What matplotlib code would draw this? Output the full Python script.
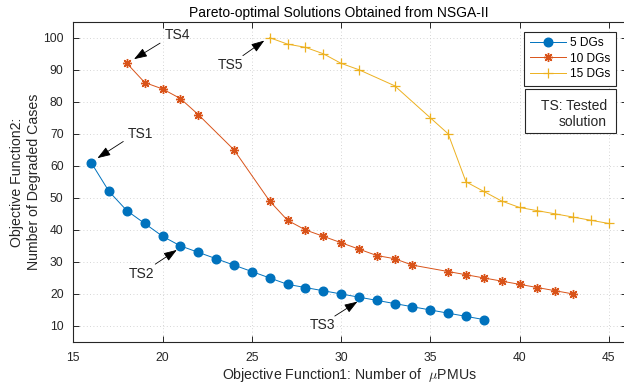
import matplotlib
matplotlib.use('Agg')
import matplotlib.pyplot as plt
from matplotlib.patches import Rectangle

plt.rcParams['font.family'] = ['Liberation Sans', 'DejaVu Sans']
plt.rcParams['mathtext.fontset'] = 'cm'

# ---- data ----
x_5dg = [16, 17, 18, 19, 20, 21, 22, 23, 24, 25, 26, 27, 28, 29, 30, 31, 32, 33, 34, 35, 36, 37, 38]
y_5dg = [61, 52, 46, 42, 38, 35, 33, 31, 29, 27, 25, 23, 22, 21, 20, 19, 18, 17, 16, 15, 14, 13, 12]
x_10dg = [18, 19, 20, 21, 22, 24, 26, 27, 28, 29, 30, 31, 32, 33, 34, 36, 37, 38, 39, 40, 41, 42, 43]
y_10dg = [92, 86, 84, 81, 76, 65, 49, 43, 40, 38, 36, 34, 32, 31, 29, 27, 26, 25, 24, 23, 22, 21, 20]
x_15dg = [26, 27, 28, 29, 30, 31, 33, 35, 36, 37, 38, 39, 40, 41, 42, 43, 44, 45]
y_15dg = [100, 98, 97, 95, 92, 90, 85, 75, 70, 55, 52, 49, 47, 46, 45, 44, 43, 42]
series_labels = ['5 DGs', '10 DGs', '15 DGs']
x_ticks = [15, 20, 25, 30, 35, 40, 45]
y_ticks = [10, 20, 30, 40, 50, 60, 70, 80, 90, 100]
ts_labels = ['TS1', 'TS2', 'TS3', 'TS4', 'TS5']

title = 'Pareto-optimal Solutions Obtained from NSGA-II'
xlabel = 'Objective Function1: Number of  $\\mu$PMUs'
ylabel = 'Objective Function2:\nNumber of Degraded Cases'

# ---- figure ----
fig = plt.figure(figsize=(6.24, 3.9), dpi=100)
ax = fig.add_axes([0.1175, 0.1231, 0.8867, 0.8213])

axc = '#262626'
c_blue, c_red, c_yel = '#0072BD', '#D95319', '#EDB120'

ax.plot(x_5dg, y_5dg, color=c_blue, lw=0.7, marker='o', ms=6.2,
        mfc=c_blue, mec=c_blue, label=series_labels[0], zorder=3)
ax.plot(x_10dg, y_10dg, color=c_red, lw=0.7, marker=(8, 2, 0), ms=6.5,
        mew=1.0, mec=c_red, label=series_labels[1], zorder=3)
ax.plot(x_15dg, y_15dg, color=c_yel, lw=0.7, marker='+', ms=7.5,
        mew=0.9, mec=c_yel, label=series_labels[2], zorder=3)

ax.set_xlim(15, 46)
ax.set_ylim(5, 105)
ax.set_xticks(x_ticks)
ax.set_yticks(y_ticks)
ax.grid(True, linestyle=(0, (1, 3)), color='#c8c8c8', lw=0.6)
ax.set_axisbelow(True)
ax.tick_params(direction='in', top=True, right=True, length=4.5, width=0.7,
               labelsize=8.7, colors=axc)
ax.tick_params(axis='x', pad=7.5)
ax.tick_params(axis='y', pad=7)
for s in ax.spines.values():
    s.set_color(axc)
    s.set_linewidth(0.8)

ax.set_title(title, fontsize=10, x=0.48, pad=3.2, color='black')
ax.set_xlabel(xlabel, fontsize=10.2, color=axc)
ax.set_ylabel(ylabel, fontsize=10.2, color=axc, linespacing=1.25)
ax.xaxis.set_label_coords(0.5, -0.075)
ax.yaxis.set_label_coords(-0.059, 0.5)

leg = ax.legend(loc='upper right', bbox_to_anchor=(0.981, 0.969), fontsize=8.6,
                handlelength=3.0, labelspacing=0.3, borderpad=0.45,
                handletextpad=0.4, frameon=True, fancybox=False,
                edgecolor=axc, framealpha=1, borderaxespad=0)
leg.get_frame().set_linewidth(0.8)

# Tested-solution note box
ax.add_patch(Rectangle((0.8164, 0.6535), 0.165, 0.1355, transform=ax.transAxes,
                       facecolor='white', edgecolor=axc, lw=0.8, zorder=5))
ax.text(0.964, 0.713, 'TS: Tested\nsolution', transform=ax.transAxes,
        ha='right', va='center', multialignment='right', fontsize=10,
        color=axc, zorder=6)

# annotations: (label, text pos, arrow tail, arrow tip)
ann = [
    (ts_labels[0], (18.74, 69.9), (17.80, 67.6), (16.35, 62.4)),
    (ts_labels[1], (18.84, 26.2), (19.59, 29.3), (20.80, 33.75)),
    (ts_labels[2], (28.95, 10.3), (29.65, 13.1), (30.92, 17.6)),
    (ts_labels[3], (20.83, 100.9), (19.86, 98.3), (18.40, 93.3)),
    (ts_labels[4], (23.79, 91.6), (24.50, 94.4), (25.70, 99.1)),
]
for lab, tpos, tail, tip in ann:
    ax.annotate('', xy=tip, xytext=tail,
                arrowprops=dict(arrowstyle='-|>,head_length=0.8,head_width=0.28',
                                lw=0.6, color='black', shrinkA=0, shrinkB=0,
                                mutation_scale=10), zorder=6)
    ax.text(tpos[0], tpos[1], lab, ha='center', va='center', fontsize=10,
            color=axc, zorder=6)

fig.savefig('out.png', dpi=100)
